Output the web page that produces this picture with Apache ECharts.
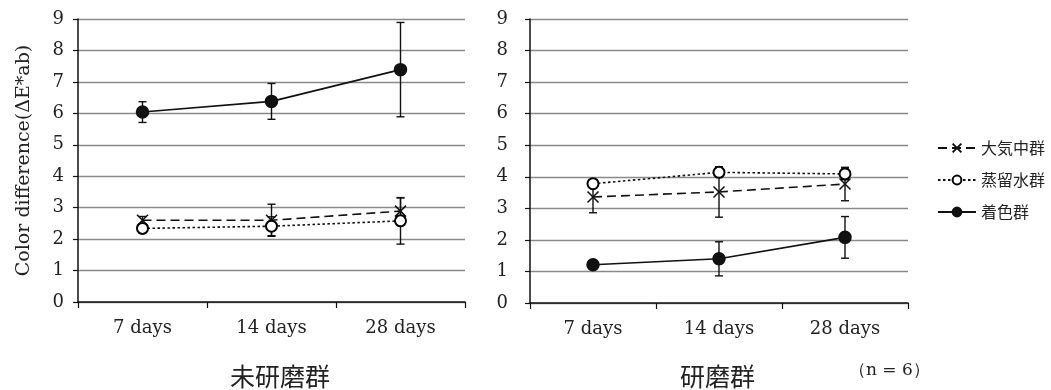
<!DOCTYPE html>
<html><head><meta charset="utf-8">
<script src="https://cdn.jsdelivr.net/npm/echarts@6/dist/echarts.min.js"></script>
<style>html,body{margin:0;padding:0;background:#fff}#c{width:1051px;height:390px}</style>
</head><body><div id="c"></div>
<script>
const categories = ['7 days', '14 days', '28 days'];
const yTicks = [0,1,2,3,4,5,6,7,8,9];
const seriesNames = ['大気中群', '蒸留水群', '着色群'];
// 未研磨群
const unpolAir = [2.60, 2.60, 2.89];
const unpolAirErr = [0.12, 0.51, 0.42];
const unpolWater = [2.34, 2.41, 2.58];
const unpolWaterErr = [0.15, 0.30, 0.74];
const unpolStain = [6.04, 6.38, 7.39];
const unpolStainErr = [0.33, 0.57, 1.50];
// 研磨群
const polAir = [3.36, 3.52, 3.77];
const polAirErr = [0.50, 0.80, 0.53];
const polWater = [3.78, 4.14, 4.09];
const polWaterErr = [0.10, 0.12, 0.18];
const polStain = [1.21, 1.40, 2.08];
const polStainErr = [0.10, 0.54, 0.66];

const serif = 'DejaVu Serif';
const chart = echarts.init(document.getElementById('c'));

function yAxis(idx, withName, margin) {
  return {
    type: 'value', gridIndex: idx, min: 0, max: 9, interval: 1,
    name: withName ? 'Color difference(ΔE*ab)' : '',
    nameLocation: 'middle', nameRotate: 90, nameGap: 44,
    nameTextStyle: { fontFamily: serif, fontSize: 19, color: '#222' },
    axisLine: { show: true, lineStyle: { color: '#111', width: 1.5 } },
    axisTick: { show: true, length: 5, lineStyle: { color: '#111', width: 1.2 } },
    axisLabel: { fontFamily: serif, fontSize: 18, color: '#222', margin: margin },
    splitLine: { show: true, lineStyle: { color: '#8a8a8a', width: 1.4 } }
  };
}
function xAxis(idx) {
  return {
    type: 'category', gridIndex: idx, data: categories, boundaryGap: true,
    axisLine: { show: true, lineStyle: { color: '#111', width: 1.5 } },
    axisTick: { show: true, length: 6, alignWithLabel: false, lineStyle: { color: '#111', width: 1.2 } },
    axisLabel: { fontFamily: serif, fontSize: 18, color: '#222', margin: 17 }
  };
}
const styles = {
  '大気中群': { symbol: 'path://M0,0L10,10M10,0L0,10', symbolSize: 11, type: [9, 5], fill: '#000' },
  '蒸留水群': { symbol: 'emptyCircle', symbolSize: 11, type: [2.5, 2.5], fill: '#000' },
  '着色群': { symbol: 'circle', symbolSize: 12, type: 'solid', fill: '#111' }
};
function lineSeries(name, data, idx) {
  const s = styles[name];
  return {
    type: 'line', name: name, data: data, xAxisIndex: idx, yAxisIndex: idx,
    symbol: s.symbol, symbolSize: s.symbolSize, z: 3,
    lineStyle: { color: '#111', width: 1.6, type: s.type },
    itemStyle: { color: s.fill, borderColor: '#111', borderWidth: 1.5 },
    emphasis: { disabled: true }
  };
}
function errSeries(vals, errs, idx, key) {
  return {
    type: 'custom', name: 'err' + key, xAxisIndex: idx, yAxisIndex: idx, z: 2,
    data: vals.map((v, i) => [i, v - errs[i], v + errs[i]]),
    renderItem: function (params, api) {
      const lo = api.coord([api.value(0), api.value(1)]);
      const hi = api.coord([api.value(0), api.value(2)]);
      const w = 4;
      const st = { stroke: '#111', lineWidth: 1.4 };
      return { type: 'group', children: [
        { type: 'line', shape: { x1: lo[0], y1: lo[1], x2: hi[0], y2: hi[1] }, style: st },
        { type: 'line', shape: { x1: lo[0] - w, y1: lo[1], x2: lo[0] + w, y2: lo[1] }, style: st },
        { type: 'line', shape: { x1: hi[0] - w, y1: hi[1], x2: hi[0] + w, y2: hi[1] }, style: st }
      ]};
    }
  };
}

chart.setOption({
  backgroundColor: '#fff',
  animation: false,
  grid: [
    { left: 78, right: 586, top: 19, bottom: 88 },
    { left: 530, right: 143, top: 19, bottom: 87 }
  ],
  xAxis: [xAxis(0), xAxis(1)],
  yAxis: [yAxis(0, true, 14), yAxis(1, false, 22)],
  legend: {
    data: seriesNames, orient: 'vertical', left: 932, top: 135,
    itemWidth: 38, itemHeight: 11, itemGap: 16,
    textStyle: { fontFamily: 'Noto Sans CJK JP', fontSize: 16, color: '#222' }
  },
  graphic: [
    { type: 'text', left: 230, top: 364, style: { text: '未研磨群', font: '25px "Noto Sans CJK JP"', fill: '#222' } },
    { type: 'text', left: 680, top: 364, style: { text: '研磨群', font: '25px "Noto Sans CJK JP"', fill: '#222' } },
    { type: 'text', left: 849, top: 362, style: { text: '（n = 6）', font: '17px "DejaVu Serif"', fill: '#222' } }
  ],
  series: [
    errSeries(unpolAir, unpolAirErr, 0, 'a0'),
    errSeries(unpolWater, unpolWaterErr, 0, 'w0'),
    errSeries(unpolStain, unpolStainErr, 0, 's0'),
    errSeries(polAir, polAirErr, 1, 'a1'),
    errSeries(polWater, polWaterErr, 1, 'w1'),
    errSeries(polStain, polStainErr, 1, 's1'),
    lineSeries('大気中群', unpolAir, 0),
    lineSeries('蒸留水群', unpolWater, 0),
    lineSeries('着色群', unpolStain, 0),
    lineSeries('大気中群', polAir, 1),
    lineSeries('蒸留水群', polWater, 1),
    lineSeries('着色群', polStain, 1)
  ]
});
</script>
</body></html>
